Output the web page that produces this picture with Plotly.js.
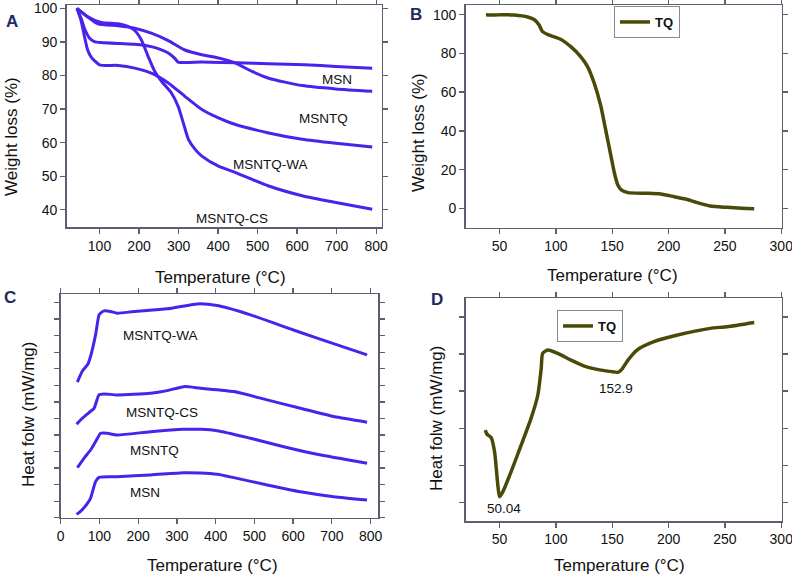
<!DOCTYPE html>
<html>
<head>
<meta charset="utf-8">
<script src="https://cdn.plot.ly/plotly-3.0.1.min.js"></script>
<style>html,body{margin:0;padding:0;background:#fff;}#chart{width:792px;height:576px;}</style>
</head>
<body>
<div id="chart"></div>
<script>
// ---------- Panel A: TGA of nanoparticles (Temperature °C vs Weight loss %) ----------
const aMsnT   = [43, 55, 62, 75, 87, 104, 150, 189, 231, 260, 274, 290, 299, 359, 450, 528, 620, 698, 790];
const aMsnW   = [100, 96.5, 94, 91.1, 90.1, 89.8, 89.5, 89.3, 88.6, 87.5, 86.7, 85.2, 84, 84, 83.8, 83.5, 83.2, 82.7, 82.2];
const aTqT    = [43, 70, 96, 147, 189, 231, 274, 316, 359, 401, 444, 486, 528, 613, 698, 790];
const aTqW    = [100, 97.5, 95.4, 94.8, 94.1, 92.6, 90.4, 87.6, 86.2, 85.2, 83.7, 81.2, 79.2, 77, 76, 75.3];
const aWaT    = [43, 53, 62, 70, 79, 100, 147, 189, 231, 274, 316, 359, 401, 444, 528, 613, 698, 790];
const aWaW    = [100, 96.5, 91.6, 87.6, 85.5, 83.2, 83, 82.2, 80.7, 77.8, 73.8, 69.9, 67.4, 65.4, 62.9, 61, 59.8, 58.7];
const aCsT    = [43, 70, 104, 147, 172, 189, 206, 223, 240, 257, 282, 299, 312, 325, 342, 359, 401, 444, 528, 613, 698, 790];
const aCsW    = [100, 97.5, 95.8, 95.4, 94.6, 93.4, 90.6, 85.7, 81.2, 78.3, 74.8, 70.8, 65.9, 61, 58, 56, 53, 51.1, 47.1, 44.2, 42.2, 40.2];

// ---------- Panel B: TGA of TQ ----------
const bTqT = [38, 45, 52, 63, 75, 81, 85, 88, 93, 105, 113, 122, 128, 134, 140, 143, 149, 152, 155, 158, 164, 180, 193, 205, 215, 223, 237, 252, 265, 276];
const bTqW = [100, 99.8, 100, 99.8, 98.8, 97.4, 94.8, 91.4, 89.7, 87.1, 83.6, 78.4, 73.3, 64.7, 52.6, 44, 26.7, 18.1, 12, 9.5, 8.1, 7.8, 7.4, 6, 4.8, 3.4, 1.2, 0.5, 0, -0.2];

// ---------- Panel C: DSC of nanoparticles (arbitrary offset units) ----------
const cMsnT = [41, 52, 69, 77, 90, 99, 146, 232, 318, 361, 404, 447, 533, 619, 705, 791];
const cMsnH = [0.20, 0.40, 0.87, 1.17, 2.18, 2.44, 2.48, 2.58, 2.72, 2.70, 2.62, 2.42, 1.98, 1.57, 1.27, 1.07];
const cTqT  = [43, 60, 77, 95, 103, 120, 146, 232, 318, 361, 404, 490, 576, 662, 791];
const cTqH  = [3.02, 3.59, 4.09, 4.80, 5.10, 5.10, 5.00, 5.20, 5.34, 5.34, 5.26, 4.80, 4.29, 3.83, 3.29];
const cCsT  = [41, 56, 73, 86, 99, 112, 146, 232, 275, 318, 361, 447, 533, 619, 705, 791];
const cCsH  = [5.65, 6.01, 6.35, 6.61, 7.42, 7.48, 7.42, 7.52, 7.68, 7.92, 7.82, 7.62, 7.12, 6.61, 6.11, 5.77];
const cWaT  = [43, 56, 70, 77, 90, 99, 103, 112, 129, 146, 189, 275, 353, 404, 490, 576, 662, 791];
const cWaH  = [8.19, 8.87, 9.27, 9.74, 11.05, 12.26, 12.36, 12.5, 12.46, 12.36, 12.46, 12.62, 12.92, 12.82, 12.26, 11.55, 10.85, 9.84];

// ---------- Panel D: DSC of TQ ----------
const dTqT = [37.3, 39, 42.6, 45.6, 48.5, 50, 53, 60.3, 69.2, 78, 84, 87, 88.3, 92.8, 101.6, 113.4, 125.2, 140, 152, 155, 158, 164, 172, 187, 208, 237, 252, 276];
const dTqH = [4.9, 4.67, 4.49, 3.73, 1.94, 1.31, 1.58, 2.66, 4.09, 5.53, 6.79, 8.22, 9.03, 9.21, 9.03, 8.67, 8.35, 8.13, 8.03, 8.01, 8.13, 8.67, 9.21, 9.66, 10.02, 10.38, 10.47, 10.7];

const seriesLabelsA = ['MSN', 'MSNTQ', 'MSNTQ-WA', 'MSNTQ-CS'];
const seriesLabelsC = ['MSNTQ-WA', 'MSNTQ-CS', 'MSNTQ', 'MSN'];
const tqName = 'TQ';
const peakLabels = ['50.04', '152.9'];

const FONT = 'Liberation Sans, Arial, Helvetica, sans-serif';
const BLUE = '#4a22ec';
const OLIVE = '#4a4a08';
const AX = '#5e5e6e';

function W(px){ return px/792; }
function H(py){ return 1 - py/576; }

function blue(x, y, xa, ya){
  return {x:x, y:y, xaxis:xa, yaxis:ya, type:'scatter', mode:'lines', showlegend:false,
    line:{color:BLUE, width:3, shape:'spline', smoothing:0.6}, hoverinfo:'skip'};
}

const traces = [
  blue(aMsnT, aMsnW, 'x', 'y'),
  blue(aTqT, aTqW, 'x', 'y'),
  blue(aWaT, aWaW, 'x', 'y'),
  blue(aCsT, aCsW, 'x', 'y'),
  {x:bTqT, y:bTqW, xaxis:'x2', yaxis:'y2', type:'scatter', mode:'lines', name:tqName, legend:'legend',
    line:{color:OLIVE, width:3.5, shape:'spline', smoothing:0.6}},
  blue(cMsnT, cMsnH, 'x3', 'y3'),
  blue(cTqT, cTqH, 'x3', 'y3'),
  blue(cCsT, cCsH, 'x3', 'y3'),
  blue(cWaT, cWaH, 'x3', 'y3'),
  {x:dTqT, y:dTqH, xaxis:'x4', yaxis:'y4', type:'scatter', mode:'lines', name:tqName, legend:'legend2',
    line:{color:OLIVE, width:3.5, shape:'spline', smoothing:0.6}}
];

function axis(opts){
  const base = {
    showline:true, linecolor:AX, linewidth:1.5, mirror:'allticks',
    ticks:'outside', ticklen:5, tickwidth:1.3, tickcolor:AX,
    showgrid:false, zeroline:false, ticklabeloverflow:'allow',
    tickfont:{family:FONT, size:14, color:'#111'},
    minor:{ticks:'outside', ticklen:3, tickwidth:1.2, tickcolor:AX, showgrid:false}
  };
  const o = Object.assign(base, opts);
  if (opts.minor) o.minor = Object.assign(base.minor, opts.minor);
  return o;
}

const legendBase = {
  bgcolor:'#ffffff', bordercolor:'#8a8a8a', borderwidth:1,
  font:{family:FONT, size:13, color:'#111', weight:'bold'},
  xanchor:'left', yanchor:'top', itemwidth:30, tracegroupgap:0
};

function ann(text, px, py, size, extra){
  return Object.assign({text:text, xref:'paper', yref:'paper', x:W(px), y:H(py),
    xanchor:'center', yanchor:'middle', showarrow:false,
    font:{family:FONT, size:size, color:'#111'}}, extra||{});
}

const annotations = [
  // panel letters
  ann('<b>A</b>', 12, 21, 17, {font:{family:FONT, size:17, color:'#1f2a5e'}}),
  ann('<b>B</b>', 416, 15, 17, {font:{family:FONT, size:17, color:'#1f2a5e'}}),
  ann('<b>C</b>', 10, 297, 17, {font:{family:FONT, size:17, color:'#1f2a5e'}}),
  ann('<b>D</b>', 437, 299, 17, {font:{family:FONT, size:17, color:'#1f2a5e'}}),
  // axis titles
  ann('Temperature (°C)', 220, 277, 17),
  ann('Weight loss (%)', 11, 137, 17, {textangle:-90}),
  ann('Temperature (°C)', 612, 275, 17),
  ann('Weight loss (%)', 418, 133, 17, {textangle:-90}),
  ann('Temperature (°C)', 212, 565, 17),
  ann('Heat folw (mW/mg)', 28, 415, 17, {textangle:-90}),
  ann('Temperature (°C)', 619, 565, 17),
  ann('Heat folw (mW/mg)', 436, 419, 17, {textangle:-90}),
  // series labels panel A
  ann(seriesLabelsA[0], 337, 80, 13.5),
  ann(seriesLabelsA[1], 323, 118, 13.5),
  ann(seriesLabelsA[2], 270, 164, 13.5),
  ann(seriesLabelsA[3], 232, 218, 13.5),
  // series labels panel C
  ann(seriesLabelsC[0], 160, 335, 13.5),
  ann(seriesLabelsC[1], 162, 412, 13.5),
  ann(seriesLabelsC[2], 154, 450, 13.5),
  ann(seriesLabelsC[3], 145, 492, 13.5),
  // peak labels panel D
  ann(peakLabels[0], 504, 508, 13.5),
  ann(peakLabels[1], 616, 388, 13.5)
];

const layout = {
  width:792, height:576,
  margin:{l:0, r:0, t:0, b:0},
  paper_bgcolor:'#ffffff', plot_bgcolor:'#ffffff',
  font:{family:FONT, color:'#111'},
  xaxis: axis({domain:[W(66.7), W(381.7)], range:[17, 814], dtick:100, tick0:0, minor:{dtick:50}, anchor:'y'}),
  yaxis: axis({domain:[H(227.3), H(5)], range:[34.8, 101], dtick:10, tick0:0, minor:{dtick:5}, anchor:'x'}),
  xaxis2: axis({domain:[W(465.7), W(781.7)], range:[20, 300.4], dtick:50, tick0:0, minor:{dtick:25}, anchor:'y2'}),
  yaxis2: axis({domain:[H(227.7), H(5)], range:[-10, 105], dtick:20, tick0:0, minor:{dtick:10}, anchor:'x2'}),
  xaxis3: axis({domain:[W(60.7), W(378.3)], range:[0, 820], dtick:100, tick0:0, minor:{dtick:50}, anchor:'y3'}),
  yaxis3: axis({domain:[H(517.7), H(294.3)], range:[0, 13.5], dtick:1, tick0:0, showticklabels:false, minor:{dtick:0.5}, anchor:'x3'}),
  xaxis4: axis({domain:[W(465.7), W(781.7)], range:[20, 300.4], dtick:50, tick0:0, minor:{dtick:25}, anchor:'y4'}),
  yaxis4: axis({domain:[H(521), H(298.3)], range:[0, 12], dtick:2, tick0:1, showticklabels:false, minor:{dtick:1}, anchor:'x4'}),
  legend: Object.assign({}, legendBase, {x:W(614), y:H(6)}),
  legend2: Object.assign({}, legendBase, {x:W(557), y:H(310)}),
  annotations: annotations,
  showlegend:true
};

Plotly.newPlot('chart', traces, layout, {displayModeBar:false, staticPlot:true});
</script>
</body>
</html>
